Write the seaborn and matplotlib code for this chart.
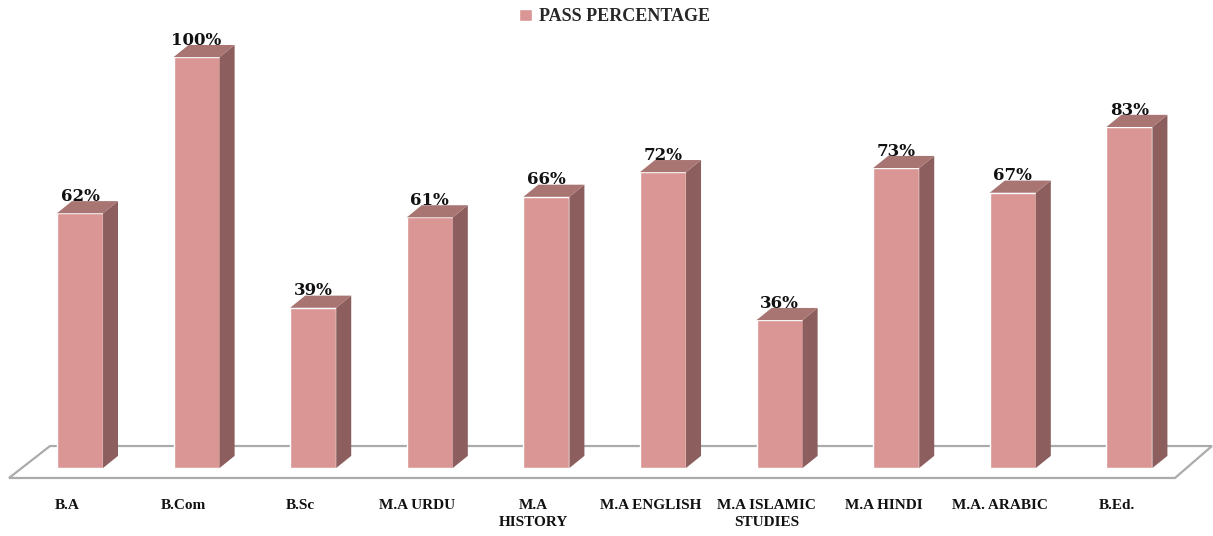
import pandas as pd
import matplotlib
matplotlib.use('Agg')
import matplotlib.pyplot as plt
import seaborn as sns
from matplotlib.patches import Polygon

courses = ['B.A', 'B.Com', 'B.Sc', 'M.A URDU', 'M.A\nHISTORY', 'M.A ENGLISH',
           'M.A ISLAMIC\nSTUDIES', 'M.A HINDI', 'M.A. ARABIC', 'B.Ed.']
pass_pct = [62, 100, 39, 61, 66, 72, 36, 73, 67, 83]
series_name = 'PASS PERCENTAGE'

front_col = '#D99694'
side_col = '#8C5F5E'
top_col = '#A87573'

df = pd.DataFrame({'course': courses, 'pct': pass_pct})

sns.set_style('white')
plt.rcParams['font.family'] = ['Liberation Serif', 'DejaVu Serif']

fig = plt.figure(figsize=(12.13, 5.36), dpi=100)
ax = fig.add_axes([0, 0, 1, 1])

sns.barplot(data=df, x='course', y='pct', color=front_col, width=0.395,
            saturation=1, ax=ax, label=series_name, zorder=3)

ax.set_xlim(-0.686, 9.717)
ax.set_ylim(-16.55, 113.9)
ax.axis('off')

# 3d depth faces
dx, dy = 0.1286, 2.95
for p in ax.patches:
    x0 = p.get_x()
    x1 = x0 + p.get_width()
    h = p.get_height()
    side = Polygon([(x1, 0), (x1 + dx, dy), (x1 + dx, h + dy), (x1, h)],
                   closed=True, facecolor=side_col, edgecolor='none', zorder=3)
    top = Polygon([(x0, h), (x0 + dx, h + dy), (x1 + dx, h + dy), (x1, h)],
                  closed=True, facecolor=top_col, edgecolor='none', zorder=3)
    ax.add_patch(side)
    ax.add_patch(top)
    ax.text(x0 + p.get_width() / 2, h + 3.0, f'{int(h)}%', ha='center',
            va='baseline', fontsize=12, fontweight='bold', color='#111111',
            family='DejaVu Serif', zorder=5)

# floor outline
floor = Polygon([(-0.609, -2.43), (-0.257, 5.35), (9.708, 5.35), (9.391, -2.43)],
                closed=True, facecolor='none', edgecolor='#ABABAB', lw=1.6, zorder=1)
ax.add_patch(floor)

# category labels
for i, c in enumerate(courses):
    ax.text(i - 0.109, -7.5, c, ha='center', va='top', fontsize=11,
            fontweight='bold', color='#111111', linespacing=1.45)

leg = ax.legend(loc='upper center', bbox_to_anchor=(0.507, 1.015), frameon=False,
                handlelength=0.7, handleheight=0.7, handletextpad=0.4,
                prop={'weight': 'bold', 'size': 13})

fig.savefig('out.png', dpi=100)
